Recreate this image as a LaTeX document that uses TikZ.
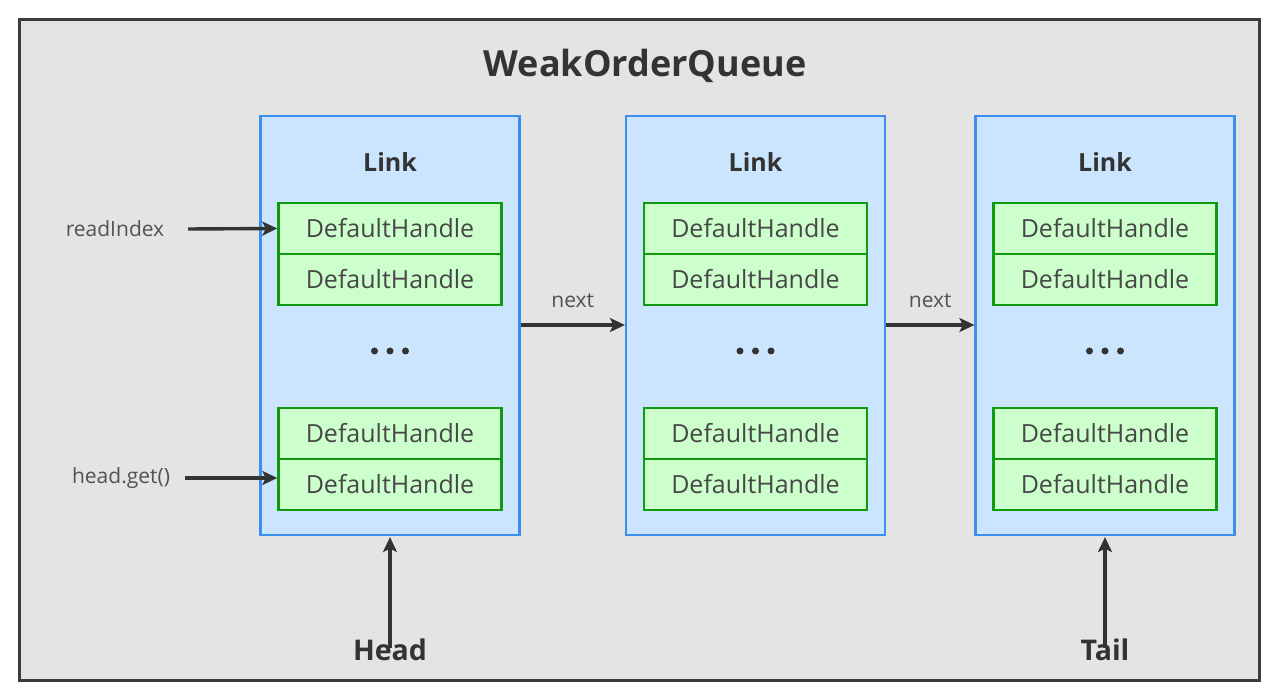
\documentclass[tikz,border=0pt]{standalone}
\usepackage{fontspec}
\setmainfont{Open Sans}
\usetikzlibrary{arrows.meta}
\definecolor{framefill}{HTML}{E4E4E4}
\definecolor{frameline}{HTML}{3C3C3C}
\definecolor{linkfill}{HTML}{CCE5FF}
\definecolor{linkline}{HTML}{3D8FEF}
\definecolor{cellfill}{HTML}{CCFFCC}
\definecolor{cellline}{HTML}{109A10}
\definecolor{ink}{HTML}{333333}
\tikzset{
  linkbox/.style={draw=linkline, line width=2.2pt, fill=linkfill, minimum width=259pt, minimum height=419pt, inner sep=0pt},
  cell/.style={draw=cellline, line width=2.4pt, fill=cellfill, minimum width=223pt, minimum height=51pt, inner sep=0pt, font=\fontsize{25}{30}\selectfont, text=ink!90},
  linktitle/.style={font=\fontsize{25}{30}\selectfont\bfseries, text=ink},
  lbl/.style={font=\fontsize{21}{25}\selectfont, text=ink!85},
  bigl/.style={font=\fontsize{28.5}{34}\selectfont\bfseries, text=ink},
  arr/.style={draw=ink, line width=3.4pt, -{Stealth[length=15pt,width=14pt,inset=3.5pt]}},
  dot/.style={circle, fill=ink, inner sep=0pt, minimum size=7pt}
}
\begin{document}
\begin{tikzpicture}[x=1pt,y=-1pt]
\useasboundingbox (0,0) rectangle (1280,700);
% outer frame
\node[draw=frameline, line width=3pt, fill=framefill, minimum width=1240pt, minimum height=660pt, inner sep=0pt] (frame) at (639.5,350) {};
\node[font=\fontsize{36}{42}\selectfont\bfseries, text=ink] (title) at (645,66) {WeakOrderQueue};

% three links, each holding two pairs of handles
\foreach \n/\cx in {1/390, 2/755.5, 3/1105}{
  \node[linkbox] (L\n) at (\cx,325.5) {};
  \node[linktitle] (T\n) at (\cx,162) {Link};
  \node[cell] (A\n) at (\cx,228.5) {DefaultHandle};
  \node[cell] (B\n) at (\cx,279.5) {DefaultHandle};
  \node[cell] (C\n) at (\cx,433.5) {DefaultHandle};
  \node[cell] (D\n) at (\cx,484.5) {DefaultHandle};
  \node[dot] (d\n a) at (\cx-15.5,351) {};
  \node[dot] (d\n b) at (\cx,351) {};
  \node[dot] (d\n c) at (\cx+15.5,351) {};
}

% pointers into the first link
\node[lbl] (ri) at (115,229) {readIndex};
\node[lbl] (hg) at (121,478) {head.get()};
\coordinate (ris) at (188,229);
\coordinate (hgs) at (185,478);
\draw[arr] (ris) -- (A1.west);
\draw[arr] (hgs) -- (hgs -| D1.west);

% next links
\draw[arr] (L1.east |- 0,325) -- node[lbl, above=12pt] (n1) {next} (L2.west |- 0,325);
\draw[arr] (L2.east |- 0,325) -- node[lbl, above=12pt] (n2) {next} (L3.west |- 0,325);

% head and tail
\node[bigl] (head) at (390,650) {Head};
\node[bigl] (tail) at (1105,650) {Tail};
\draw[arr] ([yshift=-12pt]head.north) -- ([yshift=-1pt]L1.south);
\draw[arr] ([yshift=-12pt]tail.north) -- ([yshift=-1pt]L3.south);
\end{tikzpicture}
\end{document}
